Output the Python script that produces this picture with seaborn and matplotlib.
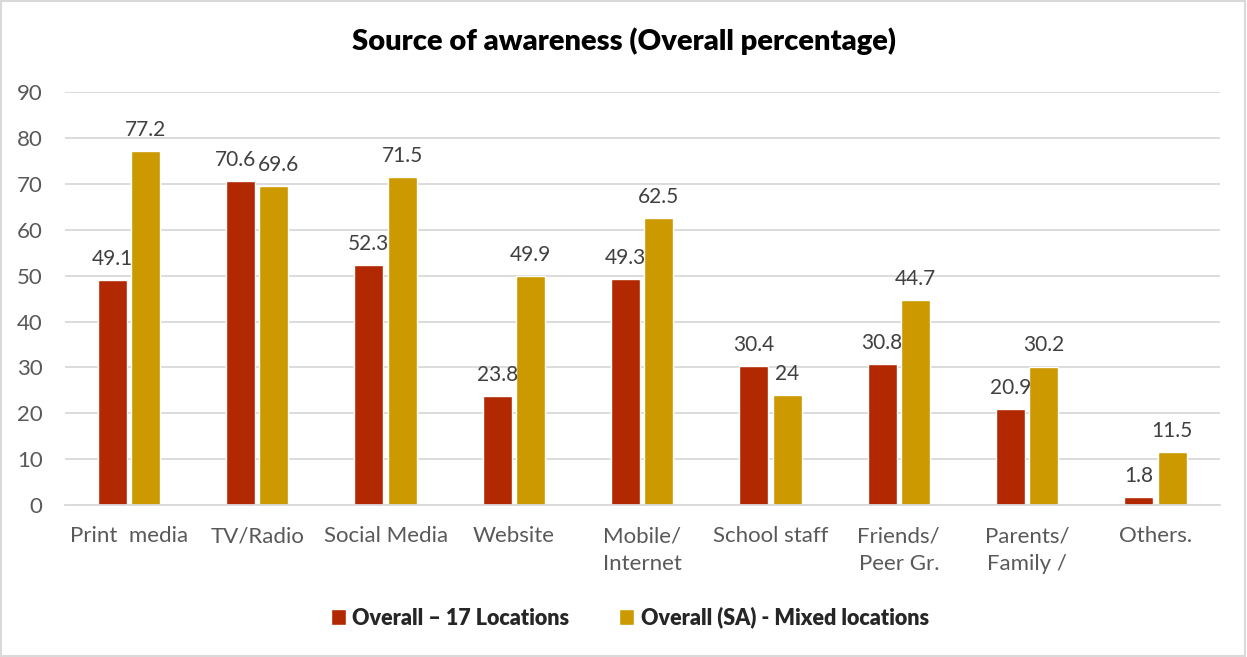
import pandas as pd
import matplotlib.pyplot as plt
import seaborn as sns
from matplotlib.patches import Rectangle

# chart data
categories = ["Print  media", "TV/Radio", "Social Media", "Website", "Mobile/\nInternet",
              "School staff", "Friends/\nPeer Gr.", "Parents/\nFamily /", "Others."]
series_names = ["Overall \u2013 17 Locations", "Overall (SA) - Mixed locations"]
overall_17 = [49.1, 70.6, 52.3, 23.8, 49.3, 30.4, 30.8, 20.9, 1.8]
overall_sa = [77.2, 69.6, 71.5, 49.9, 62.5, 24, 44.7, 30.2, 11.5]
colors = ["#B22800", "#CC9900"]

df = pd.DataFrame({
    "Source": categories * 2,
    "Series": [series_names[0]] * len(categories) + [series_names[1]] * len(categories),
    "Value": overall_17 + overall_sa,
})

sns.set_style("white")
plt.rcParams["font.family"] = ["Lato", "DejaVu Sans"]

fig = plt.figure(figsize=(12.47, 6.57), dpi=100)
ax = fig.add_axes([0.052, 0.231, 0.926, 0.629])

sns.barplot(data=df, x="Source", y="Value", hue="Series", palette=colors,
            saturation=1, width=0.52, gap=0.13, ax=ax, legend=True)

label_sets = []
for cont in ax.containers:
    label_sets.append(ax.bar_label(cont, fmt="%g", padding=8, fontsize=15, color="#404040"))

ax.set_ylim(0, 90)
ax.set_yticks(range(0, 91, 10))
ax.set_xlim(-0.5, len(categories) - 0.5)
ax.yaxis.grid(True, color="#D9D9D9", linewidth=1.3)
ax.set_axisbelow(True)
for s in ["left", "right", "top"]:
    ax.spines[s].set_visible(False)
ax.spines["bottom"].set_color("#D9D9D9")
ax.spines["bottom"].set_linewidth(1.3)
ax.tick_params(axis="both", length=0, labelsize=16, labelcolor="#595959")
ax.tick_params(axis="x", pad=15)
ax.tick_params(axis="y", pad=16)
for lbl in ax.get_xticklabels():
    lbl.set_linespacing(1.5)
ax.set_xlabel("")
ax.set_ylabel("")

# labels that collide (TV/Radio) get pushed apart just enough to touch
fig.canvas.draw()
r = fig.canvas.get_renderer()
for a, b in zip(label_sets[0], label_sets[1]):
    ba, bb = a.get_window_extent(r), b.get_window_extent(r)
    vert = ba.y1 > bb.y0 and bb.y1 > ba.y0
    overlap = ba.x1 - bb.x0
    if vert and overlap > -1:
        shift = (overlap + 2) / 2
        xa, ya = a.xyann
        xb, yb = b.xyann
        a.xyann = (xa - shift * 72 / fig.dpi, ya)
        b.xyann = (xb + shift * 72 / fig.dpi, yb)

fig.suptitle("Source of awareness (Overall percentage)", y=0.958,
             fontsize=21, fontweight="heavy", color="black")

handles, labels = ax.get_legend_handles_labels()
ax.legend(handles, labels, loc="center", bbox_to_anchor=(0.505, 0.06),
          bbox_transform=fig.transFigure, ncol=2, frameon=False,
          prop={"weight": "heavy", "size": 15.5}, handlelength=0.7, handleheight=0.7,
          handletextpad=0.3, columnspacing=2.3)

fig.patches.append(Rectangle((0.001, 0.002), 0.997, 0.996, transform=fig.transFigure,
                             fill=False, edgecolor="#D9D9D9", linewidth=1.5))

fig.savefig("out.png", dpi=100)
